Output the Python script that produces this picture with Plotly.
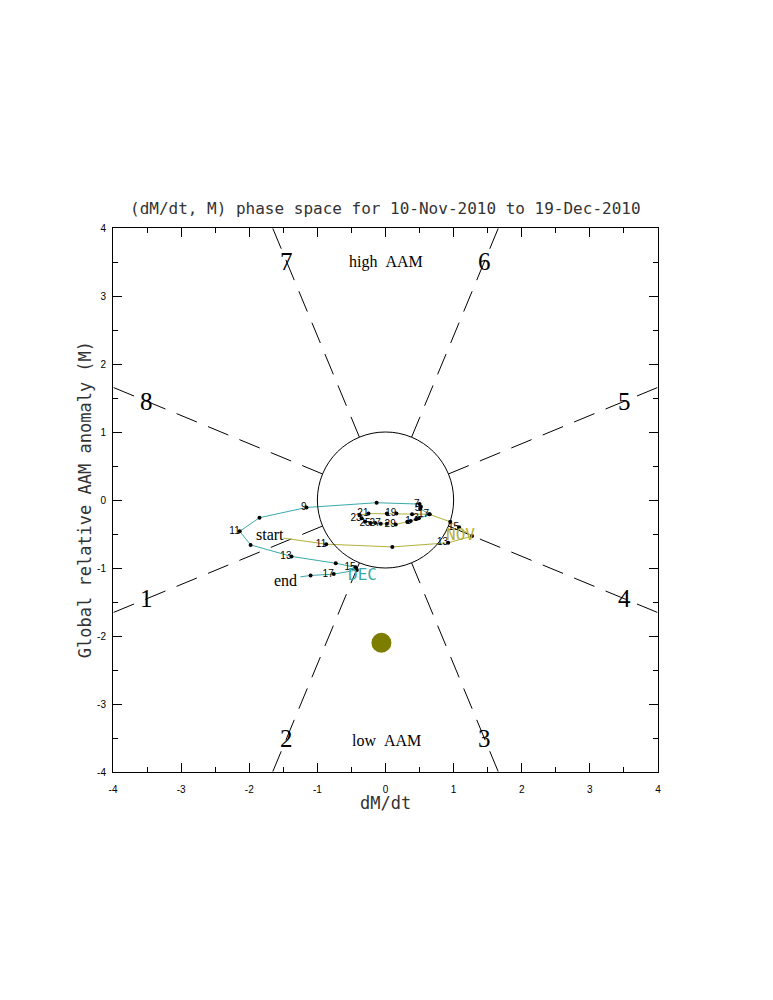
import numpy as np
import plotly.graph_objects as go

# ---------------- data ----------------
nov_days = [10, 11, 12, 13, 14, 15, 16, 17, 18, 19, 20, 21, 22, 23, 24, 25, 26, 27, 28, 29, 30]
nov_x = [-1.50, -0.87, 0.10, 0.92, 1.27, 1.08, 0.95, 0.64, 0.39, 0.16, 0.02, -0.25, -0.38, -0.35,
         -0.30, -0.22, -0.15, -0.07, 0.02, 0.15, 0.32]
nov_y = [-0.56, -0.65, -0.69, -0.63, -0.53, -0.40, -0.32, -0.21, -0.21, -0.20, -0.20, -0.20, -0.22, -0.27,
         -0.32, -0.34, -0.34, -0.35, -0.35, -0.36, -0.32]

dec_days = [1, 2, 3, 4, 5, 6, 7, 8, 9, 10, 11, 12, 13, 14, 15, 16, 17, 18, 19]
dec_x = [0.37, 0.45, 0.49, 0.65, 0.51, 0.52, 0.50, -0.13, -1.16, -1.85, -2.14, -1.98, -1.38, -0.73,
         -0.44, -0.42, -0.76, -1.10, -1.25]
dec_y = [-0.31, -0.28, -0.27, -0.21, -0.13, -0.10, -0.06, -0.04, -0.11, -0.26, -0.46, -0.66, -0.83, -0.93,
         -0.99, -1.03, -1.09, -1.11, -1.13]

blob_x = [-0.06]
blob_y = [-2.10]

phase_labels = ["1", "2", "3", "4", "5", "6", "7", "8"]
phase_angles_deg = [202.5, 247.5, 292.5, 337.5, 22.5, 67.5, 112.5, 157.5]
phase_label_radius = 3.79

x_ticks = [-4, -3, -2, -1, 0, 1, 2, 3, 4]
y_ticks = [-4, -3, -2, -1, 0, 1, 2, 3, 4]

title_text = "(dM/dt, M) phase space for 10-Nov-2010 to 19-Dec-2010"
x_title = "dM/dt"
y_title = "Global relative AAM anomaly (M)"

OLIVE = "#b2b03c"
TEAL = "#3aa9a9"
BLOB = "#7d7d00"
TXT = "#333333"

fig = go.Figure()

# phase boundary dashed lines (from unit circle to plot edge)
for ang in phase_angles_deg:
    a = np.deg2rad(ang)
    c, s = np.cos(a), np.sin(a)
    t_edge = min(4 / abs(c) if abs(c) > 1e-9 else 1e9, 4 / abs(s) if abs(s) > 1e-9 else 1e9)
    fig.add_trace(go.Scatter(x=[c, c * t_edge], y=[s, s * t_edge], mode="lines",
                             line=dict(color="black", width=1, dash="22px,12px"),
                             hoverinfo="skip", showlegend=False))

# phase numbers
for lab, ang in zip(phase_labels, phase_angles_deg):
    a = np.deg2rad(ang)
    fig.add_annotation(x=phase_label_radius * np.cos(a), y=phase_label_radius * np.sin(a),
                       text=lab, showarrow=False,
                       font=dict(family="Liberation Serif", size=25, color="black"))

# unit circle
fig.add_shape(type="circle", x0=-1, y0=-1, x1=1, y1=1, xref="x", yref="y",
              line=dict(color="black", width=1))

# trajectories
fig.add_trace(go.Scatter(x=nov_x, y=nov_y, mode="lines", line=dict(color=OLIVE, width=1),
                         showlegend=False, hoverinfo="skip"))
fig.add_trace(go.Scatter(x=[nov_x[-1]] + dec_x, y=[nov_y[-1]] + dec_y, mode="lines",
                         line=dict(color=TEAL, width=1), showlegend=False, hoverinfo="skip"))

# day dots (not on first/last)
dot_x = nov_x[1:] + dec_x[:-1]
dot_y = nov_y[1:] + dec_y[:-1]
fig.add_trace(go.Scatter(x=dot_x, y=dot_y, mode="markers",
                         marker=dict(color="black", size=4), showlegend=False, hoverinfo="skip"))

# day labels (odd days)
lab_x, lab_y, lab_t = [], [], []
for d, x, y in zip(nov_days, nov_x, nov_y):
    if d % 2 == 1:
        lab_x.append(x); lab_y.append(y); lab_t.append(str(d))
for d, x, y in zip(dec_days[:-1], dec_x[:-1], dec_y[:-1]):
    if d % 2 == 1:
        lab_x.append(x); lab_y.append(y); lab_t.append(str(d))
fig.add_trace(go.Scatter(x=lab_x, y=lab_y, mode="text", text=lab_t, textposition="middle left",
                         textfont=dict(family="Liberation Sans", size=10, color="black"),
                         showlegend=False, hoverinfo="skip"))

# big blob
fig.add_trace(go.Scatter(x=blob_x, y=blob_y, mode="markers",
                         marker=dict(color=BLOB, size=20, line=dict(width=0)),
                         showlegend=False, hoverinfo="skip"))

# month labels
fig.add_annotation(x=nov_x[5] + 0.02, y=nov_y[5] - 0.1, text="NOV", showarrow=False,
                   font=dict(family="DejaVu Sans Mono", size=16, color=OLIVE))
fig.add_annotation(x=dec_x[14] + 0.1, y=dec_y[14] - 0.1, text="DEC", showarrow=False,
                   font=dict(family="DejaVu Sans Mono", size=16, color=TEAL))

# start / end
fig.add_annotation(x=-1.69, y=-0.51, text="start", showarrow=False,
                   font=dict(family="Liberation Serif", size=16, color="black"))
fig.add_annotation(x=-1.47, y=-1.18, text="end", showarrow=False,
                   font=dict(family="Liberation Serif", size=16, color="black"))

# high / low AAM
fig.add_annotation(x=0.0, y=3.5, text="high&nbsp;&nbsp;AAM", showarrow=False,
                   font=dict(family="Liberation Serif", size=16, color="black"))
fig.add_annotation(x=0.02, y=-3.53, text="low&nbsp;&nbsp;AAM", showarrow=False,
                   font=dict(family="Liberation Serif", size=16, color="black"))

# titles
fig.add_annotation(x=0.5, y=1.035, xref="paper", yref="paper", text=title_text, showarrow=False,
                   yanchor="middle", font=dict(family="DejaVu Sans Mono", size=16, color=TXT))
fig.add_annotation(x=0.5, y=-0.057, xref="paper", yref="paper", text=x_title, showarrow=False,
                   yanchor="middle", font=dict(family="DejaVu Sans Mono", size=17, color=TXT))
fig.add_annotation(x=-0.051, y=0.5, xref="paper", yref="paper", text=y_title, showarrow=False,
                   textangle=-90, xanchor="center", yanchor="middle",
                   font=dict(family="DejaVu Sans Mono", size=17, color=TXT))

axis_common = dict(showgrid=False, zeroline=False, showline=True, linecolor="black", linewidth=1,
                   mirror="allticks", ticks="inside", ticklen=9, tickwidth=1, tickcolor="black",
                   tickfont=dict(family="Liberation Sans", size=10, color="black"),
                   minor=dict(dtick=0.5, ticks="inside", ticklen=5, tickcolor="black", showgrid=False))

fig.update_xaxes(range=[-4, 4], tickvals=x_ticks, ticktext=[str(v) for v in x_ticks],
                 ticklabelstandoff=8, **axis_common)
fig.update_yaxes(range=[-4, 4], tickvals=y_ticks, ticktext=[str(v) for v in y_ticks],
                 ticklabelstandoff=4, **axis_common)

fig.update_layout(width=773, height=1000, autosize=False,
                  margin=dict(l=105, r=123, t=220, b=236),
                  paper_bgcolor="white", plot_bgcolor="white", showlegend=False)

fig.write_html("out.html")
